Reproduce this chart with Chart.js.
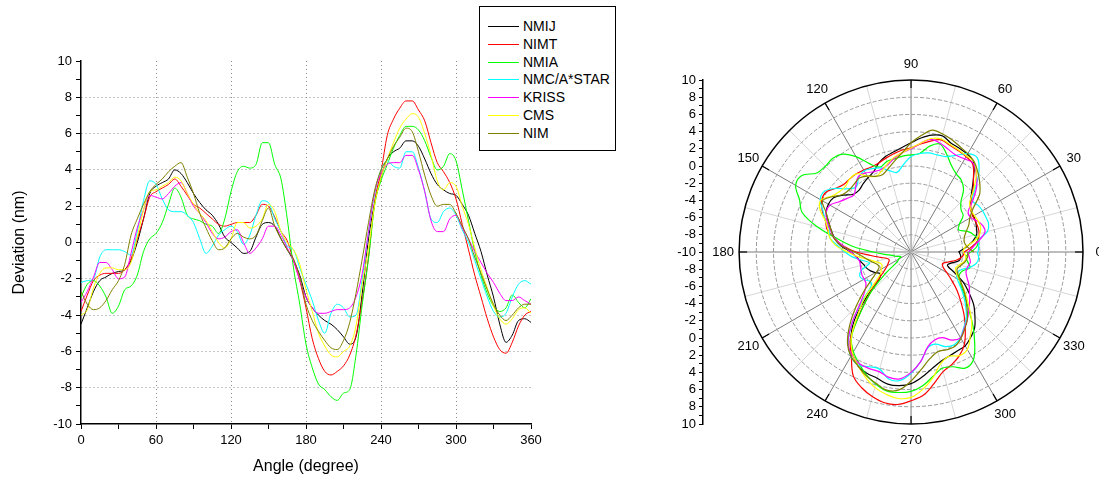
<!DOCTYPE html>
<html>
<head>
<meta charset="utf-8">
<script src="https://cdn.jsdelivr.net/npm/chart.js@4.4.0/dist/chart.umd.min.js"></script>
<style>
  body { margin: 0; background: #fff; width: 1099px; height: 485px; position: relative; overflow: hidden;
         font-family: "Liberation Sans", Arial, sans-serif; }
  #lineBox { position: absolute; left: 0; top: 0; width: 560px; height: 485px; }
  #polarBox { position: absolute; left: 650px; top: 40px; width: 449px; height: 420px; }
  #legend { position: absolute; left: 479px; top: 6px; width: 135px; height: 143px;
            border: 1px solid #000; background: #fff; }
  .row { position: absolute; left: 0; width: 135px; height: 18px; line-height: 18px; font-size: 14px; white-space: nowrap; }
  .row i { position: absolute; left: 8px; top: 9px; width: 31px; height: 1px; }
  .row span { position: absolute; left: 43px; }
</style>
</head>
<body>
<div id="lineBox"><canvas id="lineChart"></canvas></div>
<div id="polarBox"><canvas id="polarChart"></canvas></div>
<div id="legend"></div>
<script>
// angle (degree), every 5 degrees
const angles = [0,5,10,15,20,25,30,35,40,45,50,55,60,65,70,75,80,85,90,95,100,105,110,115,
  120,125,130,135,140,145,150,155,160,165,170,175,180,185,190,195,200,205,210,215,220,225,230,235,
  240,245,250,255,260,265,270,275,280,285,290,295,300,305,310,315,320,325,330,335,340,345,350,355,360];

// deviation (nm)
const nmij = [-4.5,-3.6,-2.7,-2.1,-1.9,-1.7,-1.6,-1.5,-1.0,0.0,1.3,2.7,
  3.1,3.3,3.5,4.0,3.8,3.3,2.7,2.2,1.8,1.5,1.0,0.3,
  0.0,-0.3,-0.6,-0.5,0.3,1.0,1.1,0.9,0.2,-0.4,-1.0,-1.8,
  -3.0,-3.6,-4.0,-4.3,-4.5,-4.8,-5.2,-5.6,-5.2,-2.8,0.2,2.2,
  3.6,4.6,5.0,5.2,5.6,5.6,5.3,4.6,3.8,3.2,2.9,2.7,
  2.6,2.1,1.5,0.5,-0.5,-1.8,-3.0,-4.5,-5.5,-5.1,-4.3,-4.2,-4.4];
const nimt = [-3.8,-2.9,-2.1,-1.8,-1.7,-1.7,-1.7,-1.5,-0.9,0.2,1.3,2.5,
  2.8,3.0,3.2,3.5,3.1,2.6,2.1,1.9,1.6,1.3,1.0,0.9,
  1.0,1.1,1.1,1.1,1.5,2.1,2.0,1.4,0.6,0.1,-1.0,-2.1,
  -3.6,-5.3,-6.4,-7.1,-7.3,-7.1,-6.8,-6.2,-5.1,-3.2,-0.8,2.3,
  3.9,5.9,6.8,7.4,7.8,7.8,7.3,6.7,5.5,4.4,3.9,3.3,
  2.4,1.0,-0.4,-1.8,-3.0,-4.2,-5.2,-5.9,-6.1,-5.5,-4.6,-4.0,-3.8];
const nmia = [-3.0,-2.3,-2.1,-2.4,-3.0,-3.9,-3.5,-2.6,-2.4,-1.8,-0.5,0.2,
  0.5,1.1,2.1,3.0,2.5,1.5,1.3,1.2,1.0,0.9,0.5,1.3,
  2.8,3.9,4.2,4.1,4.3,5.5,5.5,4.3,3.5,1.3,-1.4,-3.4,
  -5.6,-6.9,-7.8,-8.1,-8.5,-8.7,-8.3,-8.1,-6.2,-3.4,-0.9,2.1,
  3.4,4.3,5.2,5.9,6.4,6.4,6.2,5.6,4.7,4.0,4.2,4.9,
  4.5,2.9,1.2,-0.5,-1.8,-2.8,-3.5,-3.8,-3.6,-2.9,-3.3,-3.6,-3.1];
const nmc = [-2.2,-2.1,-2.0,-0.8,-0.4,-0.4,-0.4,-0.5,-0.7,0.6,2.3,3.4,
  3.2,2.4,1.8,1.7,1.7,1.5,1.1,0.2,-0.6,-0.2,0.4,0.7,
  0.9,0.6,-0.1,0.4,1.5,2.3,2.2,1.3,0.6,-0.2,-0.4,-1.4,
  -2.3,-3.2,-4.3,-5.0,-3.9,-3.4,-3.6,-4.1,-4.0,-2.0,0.6,2.7,
  4.0,4.5,4.2,4.1,5.0,5.0,4.1,2.8,1.3,1.1,1.7,1.9,
  1.5,0.7,0.0,-1.0,-2.0,-3.0,-3.8,-4.1,-3.9,-3.0,-2.3,-2.1,-2.3];
const kriss = [-3.3,-2.7,-1.9,-1.1,-1.1,-1.5,-2.0,-1.9,-0.6,0.8,1.8,2.6,
  2.5,2.4,2.7,3.1,3.3,2.7,2.0,1.6,1.1,0.5,0.2,0.3,
  0.6,0.7,0.0,-0.6,-0.3,0.2,0.9,0.9,0.4,-0.3,-1.0,-2.1,
  -3.0,-3.6,-3.9,-3.9,-3.8,-3.7,-3.7,-3.6,-3.0,-1.7,0.6,2.8,
  3.8,4.3,4.4,4.4,4.8,4.8,4.0,2.8,1.2,0.6,0.6,1.3,
  1.5,0.8,0.2,-0.5,-1.1,-1.7,-2.2,-2.8,-3.2,-3.2,-3.0,-3.2,-3.4];
const cms = [-4.0,-3.7,-2.5,-1.7,-1.4,-1.4,-1.5,-1.5,-1.1,0.3,1.8,2.8,
  2.9,3.1,3.3,3.6,3.4,2.7,2.1,1.6,1.2,0.6,0.0,-0.3,
  0.2,1.1,1.1,0.8,0.9,1.3,2.1,1.7,0.6,0.0,-0.4,-1.2,
  -2.6,-3.8,-5.0,-5.7,-6.2,-6.3,-6.0,-5.7,-4.6,-2.3,-0.3,2.1,
  3.6,4.6,5.5,6.3,6.8,7.1,6.9,6.0,4.8,3.4,2.9,3.3,
  3.1,2.0,1.0,-0.3,-1.5,-2.5,-3.5,-4.2,-4.5,-4.2,-3.7,-3.6,-3.9];
const nim = [-2.7,-3.4,-3.7,-3.6,-3.2,-2.6,-2.1,-1.2,0.4,1.3,2.1,2.8,
  3.2,3.5,3.9,4.2,4.4,3.6,2.7,1.6,0.8,0.1,-0.4,-0.3,
  0.2,0.5,0.3,0.2,0.4,1.2,1.9,0.9,0.2,-0.4,-0.9,-1.9,
  -3.4,-4.3,-4.9,-5.4,-5.8,-5.9,-5.4,-4.4,-2.8,-0.9,1.1,2.9,
  4.0,4.6,5.3,5.8,6.3,6.1,5.0,3.7,2.6,2.0,2.1,2.1,
  1.6,0.9,0.2,-0.8,-1.7,-2.6,-3.4,-4.0,-4.3,-4.0,-3.6,-3.4,-3.4];

const seriesNames = ["NMIJ", "NIMT", "NMIA", "NMC/A*STAR", "KRISS", "CMS", "NIM"];
const seriesColors = ["#000000", "#ff0000", "#00ff00", "#00ffff", "#ff00ff", "#ffff00", "#808000"];
const seriesValues = [nmij, nimt, nmia, nmc, kriss, cms, nim];

const xTickLabels = [0, 60, 120, 180, 240, 300, 360];
const yTickLabels = [-10, -8, -6, -4, -2, 0, 2, 4, 6, 8, 10];
const polarAngleLabels = [0, 30, 60, 90, 120, 150, 180, 210, 240, 270, 300, 330];
const polarMin = -10, polarMax = 10;

Chart.defaults.font.family = '"Liberation Sans", Arial, sans-serif';
Chart.defaults.color = "#000";

// legend
const legend = document.getElementById("legend");
seriesNames.forEach((name, i) => {
  const row = document.createElement("div");
  row.className = "row";
  row.style.top = Math.round(10 + i * 17.8) + "px";
  row.innerHTML = `<i style="background:${seriesColors[i]}"></i><span></span>`;
  row.querySelector("span").textContent = name;
  legend.append(row);
});

// left: deviation vs angle
new Chart(document.getElementById("lineChart"), {
  type: "line",
  data: {
    datasets: seriesValues.map((vals, i) => ({
      label: seriesNames[i],
      data: angles.map((a, k) => ({ x: a, y: vals[k] })),
      borderColor: seriesColors[i],
      borderWidth: 1,
      pointRadius: 0,
      cubicInterpolationMode: "monotone",
      order: seriesNames.length - i
    }))
  },
  options: {
    responsive: true, maintainAspectRatio: false, animation: false,
    layout: { padding: { left: 0, right: 29, top: 61, bottom: 0 } },
    plugins: { legend: { display: false }, tooltip: { enabled: false } },
    scales: {
      x: {
        type: "linear", min: 0, max: 360,
        afterFit: s => { s.height = 61; },
        ticks: {
          stepSize: 30, autoSkip: false, maxRotation: 0, padding: 4,
          font: { size: 13 },
          callback: v => xTickLabels.includes(v) ? String(v) : ""
        },
        grid: {
          color: c => (c.tick && c.tick.value % 60 === 0 && c.tick.value > 0 && c.tick.value < 360) ? "#8a8a8a" : "rgba(0,0,0,0)",
          tickColor: "#000", tickLength: 5, lineWidth: 1
        },
        border: { display: true, color: "#000", width: 1.5, dash: [1, 3] },
        title: { display: true, text: "Angle (degree)", font: { size: 16 }, padding: { top: 0, bottom: 9 } }
      },
      y: {
        min: -10, max: 10,
        afterFit: s => { s.width = 81; },
        ticks: {
          stepSize: 1, autoSkip: false, padding: 4,
          font: { size: 13 },
          callback: v => yTickLabels.includes(v) ? String(v) : ""
        },
        grid: {
          color: c => (c.tick && c.tick.value % 2 === 0 && Math.abs(c.tick.value) < 10) ? "#8a8a8a" : "rgba(0,0,0,0)",
          tickColor: "#000", tickLength: 5, lineWidth: 1
        },
        border: { display: true, color: "#000", width: 1.5, dash: [1, 3] },
        title: { display: true, text: "Deviation (nm)", font: { size: 16 }, padding: { top: 10, bottom: 0 } }
      }
    }
  }
});

// right: polar view of the same data
const polarGrid = {
  id: "polarGrid",
  beforeDatasetsDraw(chart) {
    const { ctx, scales: { x, y } } = chart;
    const cx = x.getPixelForValue(0), cy = y.getPixelForValue(0);
    const unit = x.getPixelForValue(1) - cx;
    const R = (polarMax - polarMin) * unit;
    ctx.save();
    for (let a = 0; a < 360; a += 15) {
      const t = a * Math.PI / 180;
      ctx.strokeStyle = a % 30 === 0 ? "#7a7a7a" : "#d6d6d6";
      ctx.lineWidth = 1;
      ctx.beginPath();
      ctx.moveTo(cx, cy);
      ctx.lineTo(cx + R * Math.cos(t), cy - R * Math.sin(t));
      ctx.stroke();
    }
    ctx.setLineDash([4, 2]);
    ctx.strokeStyle = "#9a9a9a";
    for (let v = polarMin + 2; v < polarMax; v += 2) {
      ctx.beginPath();
      ctx.arc(cx, cy, (v - polarMin) * unit, 0, Math.PI * 2);
      ctx.stroke();
    }
    ctx.setLineDash([]);
    ctx.strokeStyle = "#000";
    ctx.lineWidth = 1.5;
    ctx.beginPath();
    ctx.arc(cx, cy, R, 0, Math.PI * 2);
    ctx.stroke();
    ctx.lineWidth = 1.2;
    polarAngleLabels.forEach(a => {
      const t = a * Math.PI / 180;
      ctx.beginPath();
      ctx.moveTo(cx + R * Math.cos(t), cy - R * Math.sin(t));
      ctx.lineTo(cx + (R - 8) * Math.cos(t), cy - (R - 8) * Math.sin(t));
      ctx.stroke();
    });
    ctx.fillStyle = "#000";
    ctx.font = '13px "Liberation Sans", Arial, sans-serif';
    ctx.textAlign = "center";
    ctx.textBaseline = "middle";
    polarAngleLabels.forEach(a => {
      const t = a * Math.PI / 180;
      ctx.fillText(String(a), cx + (R + 16) * Math.cos(t), cy - (R + 16) * Math.sin(t));
    });
    ctx.restore();
  }
};

new Chart(document.getElementById("polarChart"), {
  type: "scatter",
  data: {
    datasets: seriesValues.map((vals, i) => ({
      label: seriesNames[i],
      data: angles.map((a, k) => {
        const r = vals[k] - polarMin, t = a * Math.PI / 180;
        return { x: r * Math.cos(t), y: r * Math.sin(t) };
      }),
      showLine: true,
      borderColor: seriesColors[i],
      borderWidth: 1.2,
      pointRadius: 0,
      tension: 0.35,
      order: seriesNames.length - i
    }))
  },
  options: {
    responsive: true, maintainAspectRatio: false, animation: false,
    layout: { padding: { left: 0, right: 16, top: 40, bottom: 36 } },
    plugins: { legend: { display: false }, tooltip: { enabled: false } },
    scales: {
      x: { display: false, min: -24.2, max: 20 },
      y: {
        min: -20, max: 20,
        afterFit: s => { s.width = 53; s.paddingTop = 0; s.paddingBottom = 0; },
        ticks: {
          stepSize: 1, autoSkip: false, padding: 3,
          font: { size: 13 },
          callback: v => (v % 2 === 0) ? String(Math.abs(v) + polarMin) : ""
        },
        grid: { drawOnChartArea: false, tickColor: "#000", tickLength: 4 },
        border: { display: true, color: "#000", width: 1.5 }
      }
    }
  },
  plugins: [polarGrid]
});
</script>
</body>
</html>
